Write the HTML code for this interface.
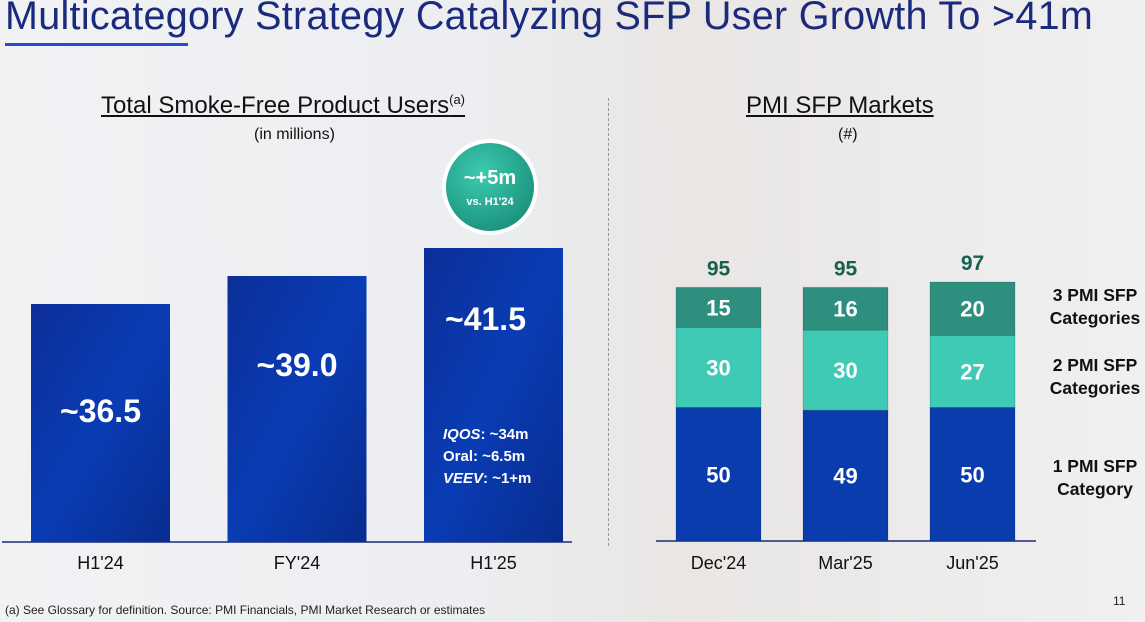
<!DOCTYPE html>
<html><head><meta charset="utf-8"><style>
body{margin:0;width:1145px;height:622px;overflow:hidden;font-family:"Liberation Sans",sans-serif;}
#root{position:relative;width:1145px;height:622px;background:linear-gradient(90deg,#f1f2f4 0%,#eceef1 40%,#e9e6e4 60%,#f0f0f1 100%);}
.t{position:absolute;white-space:nowrap;}
</style></head><body>
<div id="root">
<div class="t" style="left:5px;top:-6px;font-size:39.5px;color:#1b2a7c;letter-spacing:0.3px;">Multicategory Strategy Catalyzing SFP User Growth To &gt;41m</div>
<div style="position:absolute;left:5px;top:43px;width:183px;height:3px;background:#2a4bd0;"></div>
<div class="t" style="left:101px;top:92px;font-size:24px;color:#111;text-decoration:underline;">Total Smoke-Free Product Users<sup style="font-size:13px">(a)</sup></div>
<div class="t" style="left:254px;top:126px;font-size:16px;color:#111;">(in millions)</div>
<div class="t" style="left:746px;top:92px;font-size:24px;color:#111;text-decoration:underline;">PMI SFP Markets</div>
<div class="t" style="left:838px;top:126px;font-size:16px;color:#111;">(#)</div>
<div style="position:absolute;left:608px;top:98px;height:448px;border-left:1px dashed #999;"></div>
<div class="t" style="left:5px;top:603px;font-size:12px;color:#222;">(a) See Glossary for definition. Source: PMI Financials, PMI Market Research or estimates</div>
<div class="t" style="left:1113px;top:594px;font-size:12px;color:#222;">11</div>
<svg id="chart" width="1145" height="622" style="position:absolute;left:0;top:0">
<defs>
<linearGradient id="gb" x1="0" y1="0" x2="1" y2="1"><stop offset="0" stop-color="#0c2e98"/><stop offset="0.5" stop-color="#0a3cb4"/><stop offset="1" stop-color="#082c8e"/></linearGradient>
<radialGradient id="gc" cx="0.4" cy="0.35" r="0.7"><stop offset="0" stop-color="#3ccbb0"/><stop offset="1" stop-color="#1a8f7a"/></radialGradient>
</defs>
</svg>
</div>
<script>
const leftCats=["H1'24","FY'24","H1'25"];
const leftVals=[36.5,39.0,41.5];
const leftLabels=["~36.5","~39.0","~41.5"];
const rightCats=["Dec'24","Mar'25","Jun'25"];
const seg1=[50,49,50];
const seg2=[30,30,27];
const seg3=[15,16,20];
const totals=[95,95,97];
const NS="http://www.w3.org/2000/svg";
const svg=document.getElementById('chart');
function mk(t,a,p){const e=document.createElementNS(NS,t);for(const k in a)e.setAttribute(k,a[k]);(p||svg).appendChild(e);return e;}
function txt(x,y,s,size,fill,w,anchor){const e=mk('text',{x:x,y:y,'font-size':size,fill:fill,'font-weight':w||'normal','text-anchor':anchor||'middle','font-family':'Liberation Sans, sans-serif'});e.textContent=s;return e;}
const lBase=542;
const lY=v=>lBase-(v-15.25)*11.2;
const lX=i=>31+i*196.5;
const lW=139;
let ax=mk('line',{x1:2,y1:lBase,x2:572,y2:lBase,stroke:'#1b2a7c','stroke-width':1.5});


leftVals.forEach((v,i)=>{
 const r=mk('rect',{x:lX(i),y:lY(v),width:lW,height:lBase-lY(v),fill:'url(#gb)'});
 
 
 const lyOff=[118,100,82][i];
 const t=txt(lX(i)+lW/2-(i==2?8:0),lY(v)+lyOff,leftLabels[i],32,'#fff','bold');
 
 
 const c=txt(lX(i)+lW/2,569,leftCats[i],18,'#111');
 
 
});
const bx=lX(2)+19;
[["IQOS",": ~34m",true],["Oral",": ~6.5m",false],["VEEV",": ~1+m",true]].forEach((b,k)=>{
 const t=txt(bx,439+k*22,'',15,'#fff','bold','start');
 const s1=mk('tspan',{'font-style':b[2]?'italic':'normal'},t);s1.textContent=b[0];
 const s2=mk('tspan',{},t);s2.textContent=b[1];
 
 
});
const cg=mk('g',{});


mk('circle',{cx:490,cy:187,r:46,fill:'url(#gc)',stroke:'#fff','stroke-width':4},cg);
txt(490,184,'~+5m',20,'#fff','bold');
txt(490,205,"vs. H1'24",11,'#fff','bold');
const rBase=541;
const rS=2.67;
const rX=i=>676+i*127;
const rW=85;
let ax2=mk('line',{x1:656,y1:rBase,x2:1036,y2:rBase,stroke:'#1b2a7c','stroke-width':1.5});


const segs=[seg1,seg2,seg3];
const cols=['#0a3cae','#3fcab6','#2f8f7f'];
const segNames=['one-category','two-categories','three-categories'];
rightCats.forEach((c,i)=>{
 let y=rBase;
 segs.forEach((s,k)=>{
  const h=s[i]*rS;
  y-=h;
  const r=mk('rect',{x:rX(i),y:y,width:rW,height:h,fill:cols[k],stroke:'rgba(0,0,0,0.15)','stroke-width':1});
  
  
  const t=txt(rX(i)+rW/2,y+h/2+8,String(s[i]),22,'#fff','bold');
  
  
 });
 const tt=txt(rX(i)+rW/2,y-12,String(totals[i]),21,'#16614f','bold');
 
 
 const cl=txt(rX(i)+rW/2,569,c,18,'#111');
 
 
});
[["3 PMI SFP","Categories",301],["2 PMI SFP","Categories",371],["1 PMI SFP","Category",472]].forEach(l=>{
 const a=txt(1095,l[2],l[0],17.5,'#111','bold');
 
 
 const b=txt(1095,l[2]+23,l[1],17.5,'#111','bold');
 
 
});
</script>
</body></html>
